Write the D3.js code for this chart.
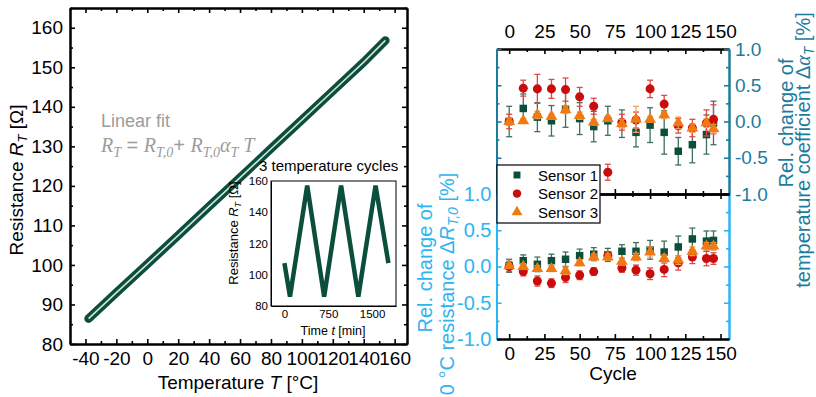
<!DOCTYPE html>
<html><head><meta charset="utf-8">
<script src="https://cdn.jsdelivr.net/npm/d3@7"></script>
<style>
body{margin:0;background:#fff}
text{font-family:"Liberation Sans",Arial,sans-serif}
</style>
</head><body>
<svg id="c" width="816" height="397"></svg>
<script>
// ---------------- DATA ----------------
// Main panel: resistance vs temperature (measured band + linear fit)
const fitTemps = [-38, -20, 0, 20, 40, 60, 80, 100, 120, 140, 154];
const fitRes   = [86.4, 93.0, 100.2, 107.5, 114.8, 122.1, 129.4, 136.7, 144.0, 151.3, 156.8];
const mainXTicks = [-40, -20, 0, 20, 40, 60, 80, 100, 120, 140, 160];
const mainXMinor = [-50, -30, -10, 10, 30, 50, 70, 90, 110, 130, 150];
const mainYTicks = [80, 90, 100, 110, 120, 130, 140, 150, 160];
const mainYMinor = [85, 95, 105, 115, 125, 135, 145, 155, 165];

// Inset: 3 temperature cycles
const cycleTime = [0, 95, 390, 680, 970, 1265, 1560, 1780];
const cycleRes  = [107.5, 86, 157, 86, 157, 86, 157, 107.5];
const insetXTicks = [0, 750, 1500];
const insetYTicks = [80, 100, 120, 140, 160];

// Right panels: cycles
const cycles = [0, 10, 20, 30, 40, 50, 60, 70, 80, 90, 100, 110, 120, 130, 140, 145];
// Rel. change of temperature coefficient (top)
const alphaS1 = [0.00, 0.18, 0.06, 0.01, 0.17, 0.04, -0.07, 0.01, -0.03, -0.15, -0.05, -0.15, -0.41, -0.32, -0.18, -0.02];
const alphaS1Err = [0.21, 0.20, 0.20, 0.21, 0.25, 0.22, 0.21, 0.20, 0.19, 0.20, 0.24, 0.30, 0.19, 0.25, 0.27, 0.30];
const alphaS2 = [0.00, 0.46, 0.45, 0.45, 0.44, 0.34, 0.21, -0.70, -0.01, 0.02, 0.45, 0.24, -0.06, -0.09, -0.02, 0.03];
const alphaS2Err = [0.10, 0.11, 0.20, 0.13, 0.16, 0.13, 0.11, 0.11, 0.11, 0.11, 0.12, 0.12, 0.10, 0.12, 0.18, 0.20];
const alphaS3 = [0.00, 0.01, 0.09, 0.07, 0.16, 0.08, -0.01, 0.04, -0.03, 0.03, 0.03, 0.09, -0.02, -0.09, -0.02, -0.10];
const alphaS3Err = [0.05, 0.03, 0.05, 0.04, 0.05, 0.05, 0.04, 0.04, 0.06, 0.18, 0.04, 0.05, 0.08, 0.06, 0.06, 0.06];
// Rel. change of 0 °C resistance (bottom)
const resS1 = [0.01, 0.08, 0.03, 0.08, 0.10, 0.15, 0.17, 0.16, 0.21, 0.21, 0.23, 0.20, 0.27, 0.38, 0.35, 0.36];
const resS1Err = [0.09, 0.08, 0.10, 0.09, 0.10, 0.09, 0.09, 0.09, 0.09, 0.12, 0.13, 0.15, 0.15, 0.15, 0.14, 0.13];
const resS2 = [0.00, -0.07, -0.20, -0.23, -0.15, -0.12, -0.07, 0.15, -0.02, -0.05, -0.10, -0.04, 0.05, 0.13, 0.11, 0.11];
const resS2Err = [0.07, 0.06, 0.07, 0.06, 0.07, 0.06, 0.05, 0.05, 0.06, 0.07, 0.08, 0.10, 0.10, 0.09, 0.10, 0.08];
const resS3 = [0.01, 0.00, -0.03, -0.03, -0.06, 0.05, 0.13, 0.13, 0.07, 0.13, 0.20, 0.11, 0.09, 0.21, 0.28, 0.28];
const resS3Err = [0.03, 0.04, 0.04, 0.04, 0.05, 0.04, 0.04, 0.04, 0.05, 0.05, 0.07, 0.05, 0.06, 0.06, 0.05, 0.05];
const sensorNames = ["Sensor 1", "Sensor 2", "Sensor 3"];
const cycleTicks = [0, 25, 50, 75, 100, 125, 150];
const cycleMinor = [12.5, 37.5, 62.5, 87.5, 112.5, 137.5];
const relTicks = [-1, -0.5, 0, 0.5, 1];
const relMinor = [-0.75, -0.25, 0.25, 0.75];

// ---------------- STYLE ----------------
const GREEN = "#0b4e3c", RED = "#c90c0c", ORANGE = "#f07a12";
const TEAL = "#1c7c9e", LBLUE = "#2fb4f2", GREY = "#9c9c9c";
const TICKFS = 19;

const svg = d3.select("#c");

function styleAxis(g, color, fs) {
  g.select(".domain").attr("stroke", color).attr("stroke-width", 2);
  g.selectAll(".tick line").attr("stroke", color).attr("stroke-width", 1.6);
  g.selectAll(".tick text").attr("fill", color).attr("font-size", fs || TICKFS)
    .attr("font-family", '"Liberation Sans",Arial,sans-serif');
  return g;
}
function addAxis(gen, tx, ty, color, fs) {
  const g = svg.append("g").attr("transform", `translate(${tx},${ty})`).call(gen);
  return styleAxis(g, color, fs);
}

// ---------------- MAIN PANEL ----------------
const mx = d3.scaleLinear().domain([-50, 168]).range([70, 407]);
const my = d3.scaleLinear().domain([80, 165]).range([344, 8]);

const fitLine = d3.line().x((d, i) => mx(fitTemps[i])).y(d => my(d));
svg.append("path").datum(fitRes).attr("d", fitLine).attr("fill", "none")
  .attr("stroke", GREEN).attr("stroke-width", 8.5).attr("stroke-linecap", "round");
svg.append("path").datum(fitRes).attr("d", fitLine).attr("fill", "none")
  .attr("stroke", "#d4e4dc").attr("stroke-width", 1.6);

const fmtInt = d => String(d);
addAxis(d3.axisBottom(mx).tickValues(mainXTicks).tickSize(-5).tickSizeOuter(0).tickPadding(8).tickFormat(fmtInt), 0, 344, "#000");
addAxis(d3.axisBottom(mx).tickValues(mainXMinor).tickSize(-3).tickSizeOuter(0).tickFormat(""), 0, 344, "#000");
addAxis(d3.axisTop(mx).tickValues(mainXTicks).tickSize(-5).tickSizeOuter(0).tickFormat(""), 0, 8, "#000");
addAxis(d3.axisTop(mx).tickValues(mainXMinor).tickSize(-3).tickSizeOuter(0).tickFormat(""), 0, 8, "#000");
addAxis(d3.axisLeft(my).tickValues(mainYTicks).tickSize(-5).tickSizeOuter(0).tickPadding(7).tickFormat(fmtInt), 70, 0, "#000");
addAxis(d3.axisLeft(my).tickValues(mainYMinor).tickSize(-3).tickSizeOuter(0).tickFormat(""), 70, 0, "#000");
addAxis(d3.axisRight(my).tickValues(mainYTicks).tickSize(-5).tickSizeOuter(0).tickFormat(""), 407, 0, "#000");
addAxis(d3.axisRight(my).tickValues(mainYMinor).tickSize(-3).tickSizeOuter(0).tickFormat(""), 407, 0, "#000");

// axis titles
const xt = svg.append("text").attr("x", 238).attr("y", 389).attr("text-anchor", "middle").attr("font-size", 19);
xt.append("tspan").text("Temperature ");
xt.append("tspan").attr("font-style", "italic").text("T");
xt.append("tspan").text(" [°C]");

const yt = svg.append("text").attr("transform", "translate(23,180) rotate(-90)").attr("text-anchor", "middle").attr("font-size", 19);
yt.append("tspan").text("Resistance ");
yt.append("tspan").attr("font-style", "italic").text("R");
yt.append("tspan").attr("font-style", "italic").attr("font-size", 13).attr("dy", 4).text("T");
yt.append("tspan").attr("dy", -4).text(" [Ω]");

// fit annotation
svg.append("text").attr("x", 101).attr("y", 127).attr("fill", GREY).attr("font-size", 18).text("Linear fit");
const ft = svg.append("text").attr("x", 101).attr("y", 152).attr("fill", GREY).attr("font-size", 20);
const serif = '"Liberation Serif","Times New Roman",serif';
const parts = [
  {t: "R", it: 1}, {t: "T", it: 1, sub: 1}, {t: " = "},
  {t: "R", it: 1}, {t: "T,0", it: 1, sub: 1}, {t: "+ "},
  {t: "R", it: 1}, {t: "T,0", it: 1, sub: 1}, {t: "α", it: 1}, {t: "T", it: 1, sub: 1}, {t: " T", it: 1}
];
let lowered = false;
parts.forEach(p => {
  const s = ft.append("tspan").text(p.t);
  if (p.it) s.attr("font-style", "italic").attr("font-family", serif);
  if (p.sub) { s.attr("font-size", 14); if (!lowered) { s.attr("dy", 5); lowered = true; } }
  else if (lowered) { s.attr("dy", -5); lowered = false; }
});

// ---------------- INSET ----------------
const ix = d3.scaleLinear().domain([-230, 1910]).range([271, 396]);
const iy = d3.scaleLinear().domain([80, 160]).range([306, 181]);
svg.append("rect").attr("x", 271).attr("y", 181).attr("width", 125).attr("height", 125)
  .attr("fill", "#fff").attr("stroke", "#000").attr("stroke-width", 1);
svg.append("path").datum(cycleRes)
  .attr("d", d3.line().x((d, i) => ix(cycleTime[i])).y(d => iy(d)))
  .attr("fill", "none").attr("stroke", GREEN).attr("stroke-width", 4.5).attr("stroke-linejoin", "miter");
const iax = addAxis(d3.axisBottom(ix).tickValues(insetXTicks).tickSize(0).tickSizeOuter(0).tickPadding(4).tickFormat(fmtInt), 0, 306, "#000", 11.5);
iax.select(".domain").attr("stroke-width", 1);
const iay = addAxis(d3.axisLeft(iy).tickValues(insetYTicks).tickSize(0).tickSizeOuter(0).tickPadding(3).tickFormat(fmtInt), 271, 0, "#000", 11.5);
iay.select(".domain").attr("stroke-width", 1);
svg.append("text").attr("x", 259).attr("y", 171).attr("font-size", 15).text("3 temperature cycles");
const ixt = svg.append("text").attr("x", 333).attr("y", 335).attr("text-anchor", "middle").attr("font-size", 12.5);
ixt.append("tspan").text("Time ");
ixt.append("tspan").attr("font-style", "italic").text("t");
ixt.append("tspan").text(" [min]");
const iyt = svg.append("text").attr("transform", "translate(238,233) rotate(-90)").attr("text-anchor", "middle").attr("font-size", 13);
iyt.append("tspan").text("Resistance ");
iyt.append("tspan").attr("font-style", "italic").text("R");
iyt.append("tspan").attr("font-style", "italic").attr("font-size", 9).attr("dy", 3).text("T");
iyt.append("tspan").attr("dy", -3).text(" [Ω]");

// ---------------- RIGHT PANELS ----------------
const rx = d3.scaleLinear().domain([-9, 156]).range([496.5, 729]);
const yTop = d3.scaleLinear().domain([-1, 1]).range([194, 49]);
const yBot = d3.scaleLinear().domain([-1, 1]).range([339, 194]);
const fmt1 = d => d.toFixed(1);

// top panel axes
addAxis(d3.axisTop(rx).tickValues(cycleTicks).tickSize(-5).tickSizeOuter(0).tickPadding(11), 0, 49, "#000");
addAxis(d3.axisTop(rx).tickValues(cycleMinor).tickSize(-3).tickSizeOuter(0).tickFormat(""), 0, 49, "#000");
addAxis(d3.axisLeft(yTop).tickValues(relTicks).tickSize(-5).tickSizeOuter(0).tickFormat(""), 496.5, 0, TEAL);
addAxis(d3.axisLeft(yTop).tickValues(relMinor).tickSize(-3).tickSizeOuter(0).tickFormat(""), 496.5, 0, TEAL);
addAxis(d3.axisRight(yTop).tickValues(relTicks).tickSize(-5).tickSizeOuter(0).tickPadding(6).tickFormat(fmt1), 729, 0, TEAL);
addAxis(d3.axisRight(yTop).tickValues(relMinor).tickSize(-3).tickSizeOuter(0).tickFormat(""), 729, 0, TEAL);
// bottom panel axes
addAxis(d3.axisLeft(yBot).tickValues(relTicks).tickSize(-5).tickSizeOuter(0).tickPadding(5).tickFormat(fmt1), 496.5, 0, LBLUE, 20);
addAxis(d3.axisLeft(yBot).tickValues(relMinor).tickSize(-3).tickSizeOuter(0).tickFormat(""), 496.5, 0, LBLUE);
addAxis(d3.axisRight(yBot).tickValues(relTicks).tickSize(-5).tickSizeOuter(0).tickFormat(""), 729, 0, LBLUE);
addAxis(d3.axisRight(yBot).tickValues(relMinor).tickSize(-3).tickSizeOuter(0).tickFormat(""), 729, 0, LBLUE);
addAxis(d3.axisBottom(rx).tickValues(cycleTicks).tickSize(-5).tickSizeOuter(0).tickPadding(8), 0, 339, "#000");
addAxis(d3.axisBottom(rx).tickValues(cycleMinor).tickSize(-3).tickSizeOuter(0).tickFormat(""), 0, 339, "#000");
// shared border (crossing ticks)
addAxis(d3.axisBottom(rx).tickValues(cycleTicks).tickSize(-5).tickSizeOuter(0).tickFormat(""), 0, 194, "#000");
addAxis(d3.axisBottom(rx).tickValues(cycleMinor).tickSize(-3).tickSizeOuter(0).tickFormat(""), 0, 194, "#000");
addAxis(d3.axisTop(rx).tickValues(cycleTicks).tickSize(-5).tickSizeOuter(0).tickFormat(""), 0, 194, "#000");
addAxis(d3.axisTop(rx).tickValues(cycleMinor).tickSize(-3).tickSizeOuter(0).tickFormat(""), 0, 194, "#000");

// series
const series = [
  {vT: alphaS1, eT: alphaS1Err, vB: resS1, eB: resS1Err, color: GREEN, err: "#3f6f60", sym: d3.symbolSquare, size: 56},
  {vT: alphaS2, eT: alphaS2Err, vB: resS2, eB: resS2Err, color: RED, err: "#e04848", sym: d3.symbolCircle, size: 64},
  {vT: alphaS3, eT: alphaS3Err, vB: resS3, eB: resS3Err, color: ORANGE, err: "#f5a060", sym: d3.symbolTriangle, size: 60}
];
function drawSeries(s, vals, errs, ys) {
  const g = svg.append("g");
  cycles.forEach((c, i) => {
    const x = rx(c), lo = ys(vals[i] - errs[i]), hi = ys(vals[i] + errs[i]);
    g.append("line").attr("x1", x).attr("x2", x).attr("y1", lo).attr("y2", hi).attr("stroke", s.err).attr("stroke-width", 1.3);
    g.append("line").attr("x1", x - 3).attr("x2", x + 3).attr("y1", lo).attr("y2", lo).attr("stroke", s.err).attr("stroke-width", 1.3);
    g.append("line").attr("x1", x - 3).attr("x2", x + 3).attr("y1", hi).attr("y2", hi).attr("stroke", s.err).attr("stroke-width", 1.3);
  });
  g.selectAll("path.m").data(vals).enter().append("path")
    .attr("d", d3.symbol().type(s.sym).size(s.size))
    .attr("transform", (d, i) => `translate(${rx(cycles[i])},${ys(d)})`)
    .attr("fill", s.color);
}
series.forEach(s => drawSeries(s, s.vT, s.eT, yTop));
series.forEach(s => drawSeries(s, s.vB, s.eB, yBot));

// legend
const lg = svg.append("g");
lg.append("rect").attr("x", 497).attr("y", 165).attr("width", 103).attr("height", 58)
  .attr("fill", "#fff").attr("stroke", "#000").attr("stroke-width", 1.2);
sensorNames.forEach((n, i) => {
  const cy = 175 + i * 18.6;
  lg.append("path").attr("d", d3.symbol().type(series[i].sym).size(series[i].size - 8))
    .attr("transform", `translate(517,${cy})`).attr("fill", series[i].color);
  lg.append("text").attr("x", 538).attr("y", cy + 5.5).attr("font-size", 15).text(n);
});

// right titles
svg.append("text").attr("x", 613).attr("y", 380).attr("text-anchor", "middle").attr("font-size", 19).text("Cycle");

svg.append("text").attr("transform", "translate(793,123) rotate(-90)").attr("text-anchor", "middle")
  .attr("font-size", 20).attr("fill", TEAL).text("Rel. change of");
const tl2 = svg.append("text").attr("transform", "translate(810,150) rotate(-90)").attr("text-anchor", "middle")
  .attr("font-size", 20).attr("fill", TEAL);
tl2.append("tspan").text("temperature coefficient Δ");
tl2.append("tspan").attr("font-style", "italic").attr("font-family", serif).text("α");
tl2.append("tspan").attr("font-style", "italic").attr("font-size", 14).attr("dy", 4).text("T");
tl2.append("tspan").attr("dy", -4).text(" [%]");

svg.append("text").attr("transform", "translate(432,268) rotate(-90)").attr("text-anchor", "middle")
  .attr("font-size", 20).attr("fill", LBLUE).text("Rel. change of");
const bl2 = svg.append("text").attr("transform", "translate(454,284) rotate(-90)").attr("text-anchor", "middle")
  .attr("font-size", 20).attr("fill", LBLUE);
bl2.append("tspan").text("0 °C resistance Δ");
bl2.append("tspan").attr("font-style", "italic").text("R");
bl2.append("tspan").attr("font-style", "italic").attr("font-size", 14).attr("dy", 4).text("T,0");
bl2.append("tspan").attr("dy", -4).text(" [%]");
</script>
</body></html>
